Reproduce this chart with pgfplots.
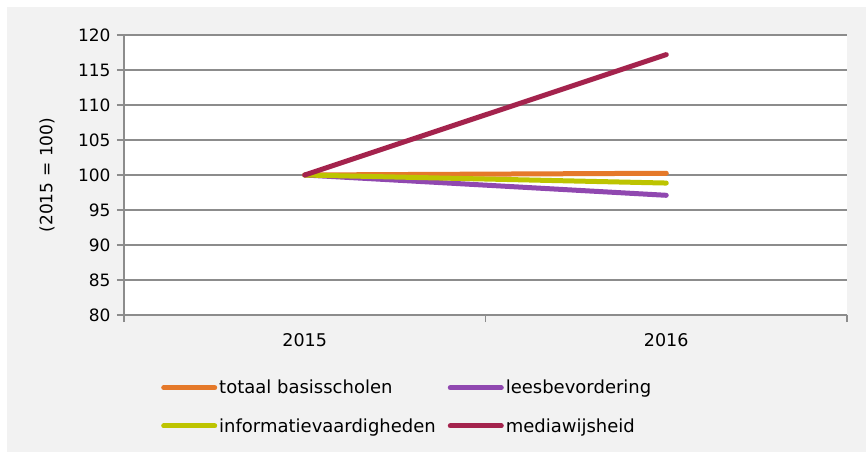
\documentclass[border=0pt]{standalone}
\usepackage{fontspec}
\setmainfont{DejaVu Sans}
\usepackage{pgfplots}
\pgfplotsset{compat=1.18}
\definecolor{bgc}{HTML}{F2F2F2}
\definecolor{gridc}{HTML}{8C8C8C}
\definecolor{corange}{HTML}{E5792A}
\definecolor{cpurple}{HTML}{9048B0}
\definecolor{cyellow}{HTML}{BDC400}
\definecolor{cmaroon}{HTML}{A4234D}
\begin{document}
\begin{tikzpicture}
\fill[white] (-124pt,-137pt) rectangle (742pt,315pt);
\fill[bgc] (-117pt,-137pt) rectangle (742pt,308pt);
\fill[white] (0pt,0pt) rectangle (723pt,280pt);
\begin{axis}[
  at={(0pt,0pt)}, anchor=south west,
  scale only axis, width=723pt, height=280pt,
  xmin=-0.5, xmax=1.5, ymin=80, ymax=120,
  /pgf/number format/assume math mode=true,
  axis x line=bottom, axis y line=left,
  axis line style={-, gridc, line width=1.5pt},
  xtick={0,1}, xticklabels={2015,2016},
  major x tick style={draw=none},
  minor xtick={-0.5,0.5,1.5},
  minor x tick style={gridc, line width=1.2pt},
  minor tick length=7pt,
  ytick={80,85,...,120},
  major tick length=7pt,
  tick align=outside,
  y tick style={gridc, line width=1.2pt},
  ymajorgrids, grid style={gridc, line width=1.5pt},
  xticklabel style={font=\fontsize{17.5}{20}\selectfont, yshift=-8pt},
  yticklabel style={font=\fontsize{17}{20}\selectfont, xshift=-3pt},
  ylabel={(2015\,\,=\,\,100)},
  ylabel style={font=\fontsize{17}{20}\selectfont, at={(axis description cs:-0.1065,0.5)}, anchor=center},
  legend columns=2,
  legend style={at={(axis description cs:0.0512,-0.225)}, anchor=north west, draw=none, fill=none,
    font=\fontsize{18}{21}\selectfont,
    /tikz/every even column/.append style={column sep=10pt},
    row sep=19pt, inner sep=0pt},
  legend cell align=left,
  legend image code/.code={\draw[#1, line width=5pt, line cap=round] (2pt,0pt) -- (53pt,0pt);},
  every axis plot/.append style={line width=5pt, line cap=round},
  clip=false,
]
\addplot[corange] coordinates {(0,100) (1,100.25)};
\addlegendentry{totaal basisscholen}
\addplot[cpurple] coordinates {(0,100) (1,97.1)};
\addlegendentry{leesbevordering}
\addplot[cyellow] coordinates {(0,100) (1,98.85)};
\addlegendentry{informatievaardigheden}
\addplot[cmaroon] coordinates {(0,100) (1,117.2)};
\addlegendentry{mediawijsheid}
\end{axis}
\end{tikzpicture}
\end{document}
